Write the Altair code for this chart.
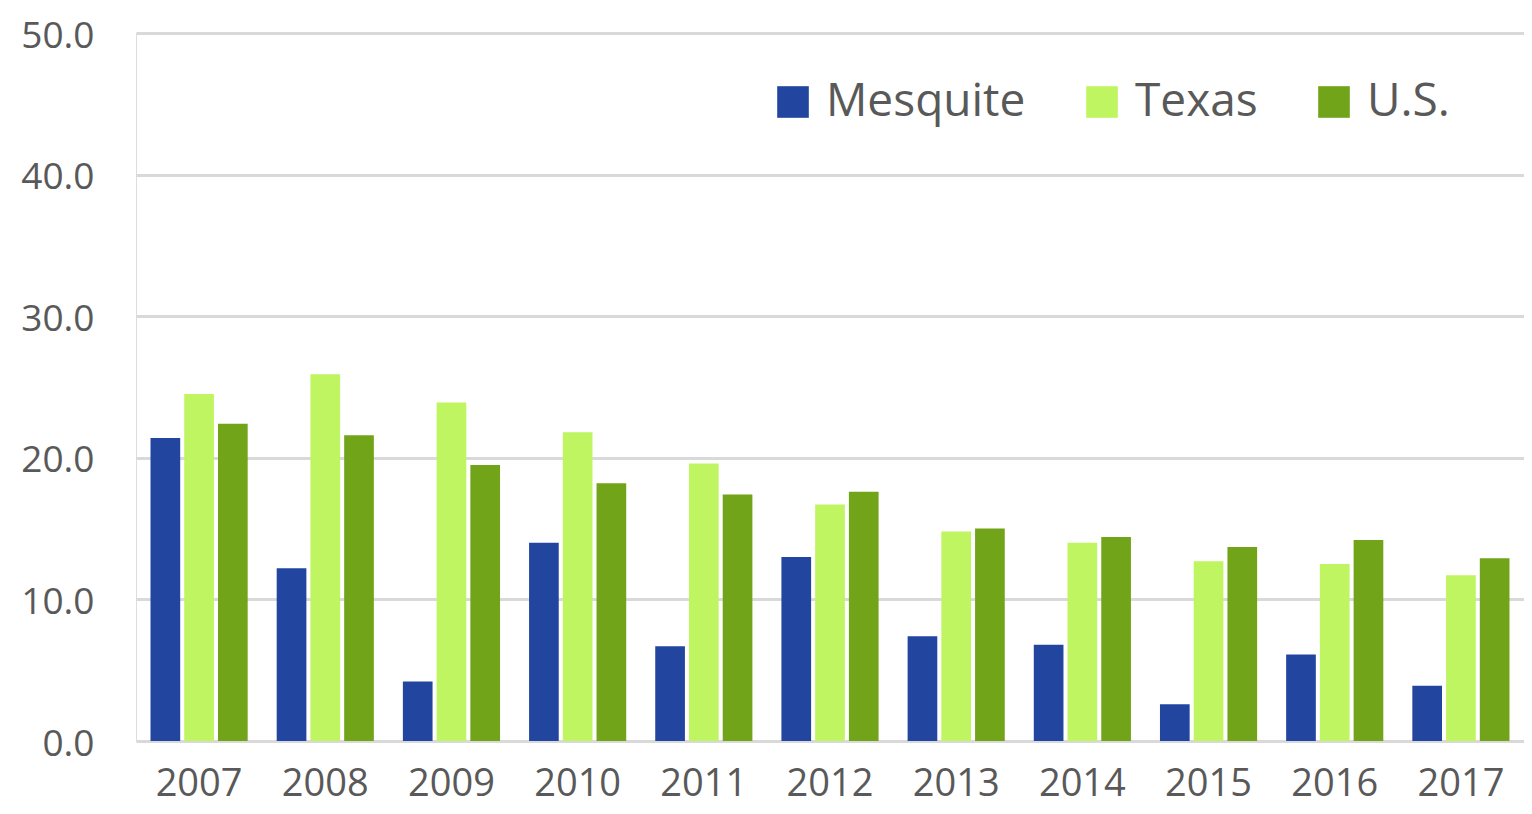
import altair as alt
import pandas as pd

years = ["2007", "2008", "2009", "2010", "2011", "2012", "2013", "2014", "2015", "2016", "2017"]
series = ["Mesquite", "Texas", "U.S."]
mesquite = [21.4, 12.2, 4.2, 14.0, 6.7, 13.0, 7.4, 6.8, 2.6, 6.1, 3.9]
texas = [24.5, 25.9, 23.9, 21.8, 19.6, 16.7, 14.8, 14.0, 12.7, 12.5, 11.7]
us = [22.4, 21.6, 19.5, 18.2, 17.4, 17.6, 15.0, 14.4, 13.7, 14.2, 12.9]
colors = ["#2246A0", "#BEF560", "#71A419"]

rows = []
for name, vals in zip(series, [mesquite, texas, us]):
    for y, v in zip(years, vals):
        rows.append({"Year": y, "Series": name, "Value": v})
df = pd.DataFrame(rows)

FONT = "Open Sans"
TXT = "#595959"

chart = alt.Chart(df).mark_bar().encode(
    x=alt.X("Year:N", sort=years, title=None,
            scale=alt.Scale(paddingInner=0.23, paddingOuter=0.115),
            axis=alt.Axis(labelAngle=0, labelFont=FONT, labelFontSize=38, labelColor=TXT,
                          ticks=False, domain=False, labelPadding=24)),
    xOffset=alt.XOffset("Series:N", sort=series,
                        scale=alt.Scale(paddingInner=0.12, paddingOuter=0)),
    y=alt.Y("Value:Q", title=None,
            scale=alt.Scale(domain=[0, 50], nice=False),
            axis=alt.Axis(values=[0, 10, 20, 30, 40, 50], format=".1f", labelFont=FONT,
                          labelFontSize=37, labelColor=TXT, ticks=False, domain=False,
                          labelPadding=42, labelOffset=3,
                          gridColor="#D9D9D9", gridWidth=3)),
    color=alt.Color("Series:N", sort=series,
                    scale=alt.Scale(domain=series, range=colors),
                    legend=alt.Legend(title=None, orient="none", legendX=634, legendY=46,
                                      direction="horizontal", columns=3,
                                      symbolType="square", symbolSize=1000,
                                      symbolStrokeWidth=0, labelFont=FONT,
                                      labelFontSize=46, labelColor=TXT, labelLimit=400,
                                      labelOffset=10, columnPadding=53)),
).properties(
    width=1388, height=708,
    autosize=alt.AutoSizeParams(type="none"),
    padding={"left": 128, "top": 25, "right": 0, "bottom": 65},
).configure_view(stroke=None).configure(background="white")

chart.save("out.html", embed_options={"renderer": "svg", "actions": False})
